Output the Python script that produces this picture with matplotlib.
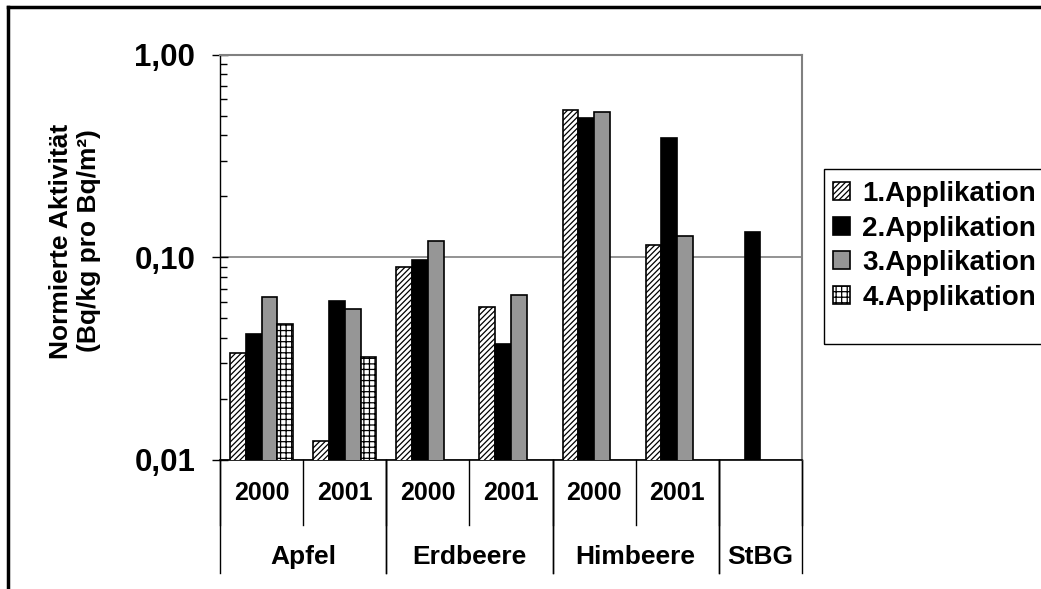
import matplotlib.pyplot as plt
import numpy as np
from matplotlib.lines import Line2D
from matplotlib.patches import Rectangle
from matplotlib.ticker import FixedLocator, FuncFormatter, LogLocator, NullFormatter

plt.rcParams['font.family'] = ['Liberation Sans', 'DejaVu Sans']
plt.rcParams['font.weight'] = 'bold'
plt.rcParams['hatch.linewidth'] = 0.9

# Daten
jahre = ["2000", "2001", "2000", "2001", "2000", "2001", ""]
fruechte = ["Apfel", "Erdbeere", "Himbeere", "StBG"]
frucht_bereich = [(0, 1), (2, 3), (4, 5), (6, 6)]
serien = ["1.Applikation", "2.Applikation", "3.Applikation", "4.Applikation"]
app1 = [0.0338, 0.0124, 0.0898, 0.0568, 0.531, 0.115, np.nan]
app2 = [0.0417, 0.0610, 0.0969, 0.0372, 0.484, 0.386, 0.133]
app3 = [0.0639, 0.0557, 0.120, 0.0651, 0.519, 0.127, np.nan]
app4 = [0.0467, 0.0323, np.nan, np.nan, np.nan, np.nan, np.nan]
werte = [app1, app2, app3, app4]

farben = ["white", "black", "#969696", "white"]
muster = ["//////", None, None, "+++"]

W, H = 1041, 589
fig = plt.figure(figsize=(W/100, H/100), dpi=100)
ax = fig.add_axes([220/W, 129/H, 582/W, 405.5/H])
ax.set_yscale('log')

x = np.arange(len(jahre))
breite = 0.19
for i, (w, name) in enumerate(zip(werte, serien)):
    w = np.array(w)
    ok = ~np.isnan(w)
    ax.bar(x[ok] + (i - 1.5)*breite, w[ok], breite, color=farben[i],
           hatch=muster[i], edgecolor="black", linewidth=1.2, label=name, zorder=3)

ax.set_xlim(-0.5, len(jahre) - 0.5)
ax.set_ylim(0.01, 1.0)
ax.yaxis.set_major_locator(FixedLocator([0.01, 0.1, 1.0]))
ax.yaxis.set_major_formatter(FuncFormatter(lambda v, _: f"{v:.2f}".replace(".", ",")))
ax.yaxis.set_minor_locator(LogLocator(base=10, subs=np.arange(2, 10)))
ax.yaxis.set_minor_formatter(NullFormatter())
ax.tick_params(axis='y', which='major', direction='inout', length=11.5, width=1,
               labelsize=22.5, pad=12)
ax.tick_params(axis='y', which='minor', direction='in', length=5, width=1)
ax.set_xticks([])
ax.grid(axis='y', which='major', color='#808080', linewidth=1.2, zorder=0)
ax.set_axisbelow(True)
for s in ['top', 'right']:
    ax.spines[s].set_color('#808080')
    ax.spines[s].set_linewidth(1.5)
ax.spines['left'].set_linewidth(1)
ax.spines['bottom'].set_linewidth(1.2)

# mehrstufige Kategorienachse
tr = ax.get_xaxis_transform()
kurz = -65/405.5
lang = -113/405.5
for b in np.arange(len(jahre) + 1) - 0.5:
    ax.plot([b, b], [0, kurz], color='black', lw=1, transform=tr, clip_on=False)
for a, e in frucht_bereich:
    for b in (a - 0.5, e + 0.5):
        ax.plot([b, b], [0, lang], color='black', lw=1, transform=tr, clip_on=False)
for xi, j in zip(x, jahre):
    ax.text(xi, -33/405.5, j, transform=tr, ha='center', va='center', fontsize=18)
for (a, e), f in zip(frucht_bereich, fruechte):
    ax.text((a + e)/2, -97/405.5, f, transform=tr, ha='center', va='center', fontsize=19)

fig.text(75/W, 1 - 241/H, "Normierte Aktivität\n(Bq/kg pro Bq/m²)", rotation=90,
         ha='center', va='center', fontsize=19, linespacing=1.25, multialignment='center')

leg = ax.legend(loc='upper left', bbox_to_anchor=(833/W, 1 - 181/H),
                bbox_transform=fig.transFigure, fontsize=20, frameon=False,
                handlelength=0.62, handleheight=0.62,
                handletextpad=0.43, labelspacing=0.31, borderpad=0, borderaxespad=0)
fig.add_artist(Rectangle((824/W, 1 - 344/H), 230/W, 175/H, fill=False,
                         edgecolor='black', lw=1, transform=fig.transFigure))

# äußerer Rahmen
fig.add_artist(Line2D([8/W, 1], [1 - 7/H, 1 - 7/H], color='black', lw=2.5,
                      transform=fig.transFigure))
fig.add_artist(Line2D([8/W, 8/W], [0, 1 - 7/H], color='black', lw=2.5,
                      transform=fig.transFigure))

fig.savefig("out.png", dpi=100)
